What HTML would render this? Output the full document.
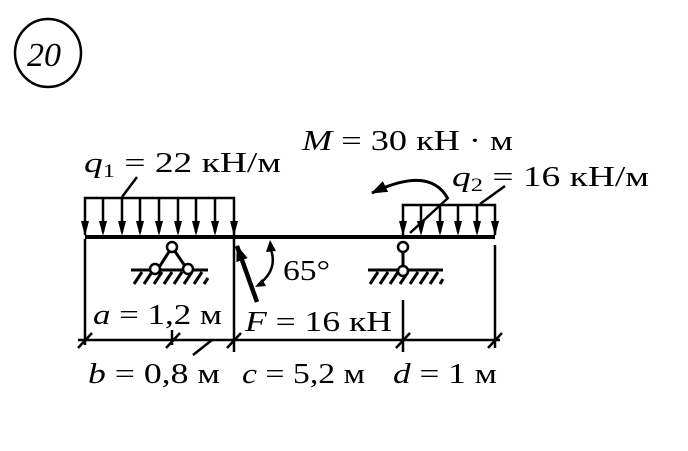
<!DOCTYPE html>
<html><head><meta charset="utf-8"><style>
html,body{margin:0;padding:0;background:#fff;}
svg{display:block;}
text{font-family:"Liberation Serif",serif;fill:#000;}
</style></head><body>
<svg width="688" height="451" viewBox="0 0 688 451" xmlns="http://www.w3.org/2000/svg">
<defs>
<marker id="ab" markerWidth="16" markerHeight="12" refX="15" refY="6" orient="auto" markerUnits="userSpaceOnUse" viewBox="0 0 16 12"><path d="M0,0 L16,6 L0,12 z" fill="#000"/></marker>
</defs>
<ellipse cx="48" cy="53" rx="33" ry="34" fill="none" stroke="#000" stroke-width="2.5"/>
<text x="27" y="66" font-size="34" font-style="italic">20</text>

<line x1="85" y1="237" x2="495" y2="237" stroke="#000" stroke-width="4"/>
<g stroke="#000" stroke-width="2.5" fill="none">
<polyline points="85,235 85,198 234,198 234,235"/>
<path d="M103,198V232M122,198V232M140,198V232M159,198V232M178,198V232M196,198V232M215,198V232"/>
<polyline points="403,235 403,205 495,205 495,235"/>
<path d="M421,205V232M440,205V232M458,205V232M477,205V232"/>
<line x1="122" y1="197" x2="137" y2="177"/>
<line x1="480" y1="204" x2="505" y2="186"/>
<line x1="410" y1="233" x2="448" y2="198"/>
<path d="M448,199 Q430,165 372,193" marker-end="url(#ab)" stroke-width="3"/>
</g>
<g fill="#000">
<path d="M81,221 L89,221 L85,236z M99,221 L107,221 L103,236z M118,221 L126,221 L122,236z M136,221 L144,221 L140,236z M155,221 L163,221 L159,236z M174,221 L182,221 L178,236z M192,221 L200,221 L196,236z M211,221 L219,221 L215,236z M230,221 L238,221 L234,236z"/>
<path d="M399,221 L407,221 L403,236z M417,221 L425,221 L421,236z M436,221 L444,221 L440,236z M454,221 L462,221 L458,236z M473,221 L481,221 L477,236z M491,221 L499,221 L495,236z"/>
</g>
<g stroke="#000" stroke-width="2.5">
<line x1="85" y1="239" x2="85" y2="345"/>
<line x1="234" y1="239" x2="234" y2="352"/>
<line x1="403" y1="300" x2="403" y2="352"/>
<line x1="495" y1="245" x2="495" y2="348"/>
<line x1="78" y1="340" x2="500" y2="340"/>
<path d="M78,348L92,333M166,348L180,333M227,348L241,333M396,348L410,333M488,348L502,333M193,355L212,340M172,330V345"/>
</g>
<g stroke="#000" stroke-width="3" fill="none">
<polyline points="158,269 172,247 187,269"/>
<line x1="131" y1="270" x2="208" y2="270"/>
<path d="M134,284L142,272M144,284L152,272M154,284L162,272M164,284L172,272M174,284L182,272M184,284L192,272M194,284L202,272M204,284L208,278"/>
<line x1="368" y1="270" x2="443" y2="270"/>
<path d="M370,284L378,272M380,284L388,272M390,284L398,272M400,284L408,272M410,284L418,272M420,284L428,272M430,284L438,272M440,284L443,279"/>
<line x1="403" y1="253" x2="403" y2="268"/>
</g>
<g fill="#fff" stroke="#000" stroke-width="2.5">
<circle cx="172" cy="247" r="5"/>
<circle cx="155" cy="269" r="5"/>
<circle cx="188" cy="269" r="5"/>
<circle cx="403" cy="247" r="5"/>
<circle cx="403" cy="271" r="5"/>
</g>
<line x1="257" y1="302" x2="237" y2="246" stroke="#000" stroke-width="4.5" marker-end="url(#ab)"/>
<path d="M271,250 Q278,270 258,285" fill="none" stroke="#000" stroke-width="2.5"/>
<path d="M266,252 L270,240 L276,251z" fill="#000"/>
<path d="M262,279 L255,287 L266,286z" fill="#000"/>

<g font-size="29">
<text x="302" y="150" textLength="211" lengthAdjust="spacingAndGlyphs"><tspan font-style="italic">M</tspan> = 30 кН · м</text>
<text x="84" y="172" textLength="197" lengthAdjust="spacingAndGlyphs"><tspan font-style="italic">q</tspan><tspan font-size="19" dy="5">1</tspan><tspan dy="-5"> = 22 кН/м</tspan></text>
<text x="452" y="186" textLength="197" lengthAdjust="spacingAndGlyphs"><tspan font-style="italic">q</tspan><tspan font-size="19" dy="5">2</tspan><tspan dy="-5"> = 16 кН/м</tspan></text>
<text x="283" y="280" textLength="47" lengthAdjust="spacingAndGlyphs">65°</text>
<text x="93" y="324" textLength="129" lengthAdjust="spacingAndGlyphs"><tspan font-style="italic">a</tspan> = 1,2 м</text>
<text x="245" y="331" textLength="147" lengthAdjust="spacingAndGlyphs"><tspan font-style="italic">F</tspan> = 16 кН</text>
<text x="88" y="383" textLength="132" lengthAdjust="spacingAndGlyphs"><tspan font-style="italic">b</tspan> = 0,8 м</text>
<text x="242" y="383" textLength="123" lengthAdjust="spacingAndGlyphs"><tspan font-style="italic">c</tspan> = 5,2 м</text>
<text x="393" y="383" textLength="104" lengthAdjust="spacingAndGlyphs"><tspan font-style="italic">d</tspan> = 1 м</text>
</g>
</svg>
</body></html>
